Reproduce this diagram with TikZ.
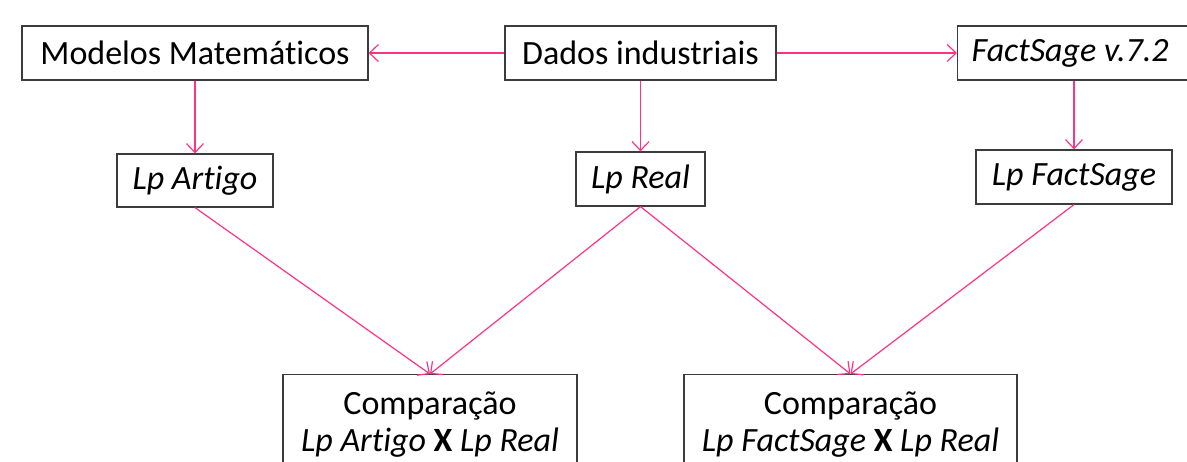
\documentclass[tikz,border=0pt]{standalone}
\usepackage{fontspec}
\setmainfont{Carlito}[RawFeature=-liga]
\usetikzlibrary{arrows.meta}
\definecolor{conn}{RGB}{255,51,133}
\definecolor{boxline}{RGB}{60,60,60}
\tikzset{
  box/.style={draw=boxline, line width=1.2pt, rectangle, inner sep=0pt, font=\fontsize{34}{37}\selectfont, text=black},
  link/.style={draw=conn, line width=1.2pt, -{Straight Barb[length=9pt,width=17pt,line width=1.2pt]}},
}
\begin{document}
\begin{tikzpicture}[x=1pt,y=-1pt]
\useasboundingbox (0,0) rectangle (1187,461);
\clip (0,0) rectangle (1187,461);
\fill[white] (0,0) rectangle (1187,461);
\node[box, minimum width=346pt, minimum height=54pt] (mod) at (195,53) {Modelos Matemáticos};
\node[box, minimum width=271pt, minimum height=54pt] (dad) at (640.5,53) {Dados industriais};
\node[box, minimum height=54pt, anchor=west] (fs) at (957,53) {\makebox[232pt][l]{\hspace{14pt}\textit{FactSage v.7.2}}};
\node[box, minimum width=156pt, minimum height=53pt] (lpa) at (195,180.5) {\textit{Lp Artigo}};
\node[box, minimum width=129pt, minimum height=54pt] (lpr) at (640.5,179) {\textit{Lp Real}};
\node[box, minimum width=196pt, minimum height=54pt] (lpf) at (1074,177) {\textit{Lp FactSage}};
\node[box, minimum width=294pt, minimum height=100pt, anchor=north, align=center] (c1) at (430,374) {Comparação\\\textit{Lp Artigo} \textbf{X} \textit{Lp Real}};
\node[box, minimum width=333pt, minimum height=100pt, anchor=north, align=center] (c2) at (850.5,374) {Comparação\\\textit{Lp FactSage} \textbf{X} \textit{Lp Real}};
\draw[link] (dad.west) -- (mod.east);
\draw[link] (dad.east) -- (fs.west);
\draw[link] (mod.south) -- (lpa.north);
\draw[link] (dad.south) -- (lpr.north);
\draw[link] (fs.south -| lpf.north) -- (lpf.north);
\draw[link] (lpa.south) -- (c1.north);
\draw[link] (lpr.south) -- (c1.north);
\draw[link] (lpr.south) -- (c2.north);
\draw[link] (lpf.south) -- (c2.north);
\end{tikzpicture}
\end{document}
